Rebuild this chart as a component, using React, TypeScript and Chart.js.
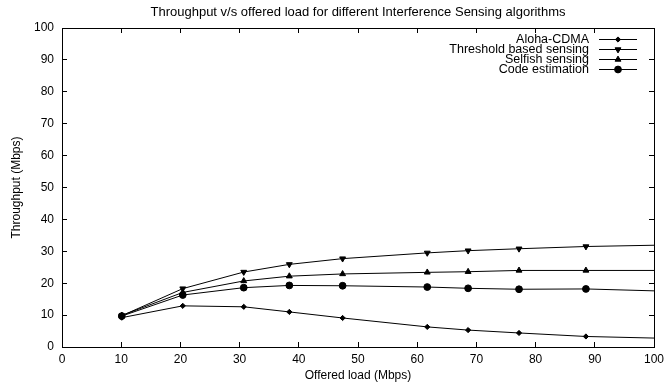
import { useEffect, useRef } from "react";
import { Chart, registerables } from "chart.js";
import { drawPoint } from "chart.js/helpers";

Chart.register(...registerables);

const chartTitle = "Throughput v/s offered load for different Interference Sensing algorithms";
const xTitle = "Offered load (Mbps)";
const yTitle = "Throughput (Mbps)";

const offeredLoad = [10.1, 20.4, 30.7, 38.4, 47.4, 61.7, 68.6, 77.2, 88.5, 100];
const alohaCdma = [9.2, 12.9, 12.6, 11.0, 9.1, 6.3, 5.3, 4.4, 3.3, 2.8];
const thresholdSensing = [9.8, 18.3, 23.5, 25.9, 27.7, 29.5, 30.2, 30.8, 31.5, 31.9];
const selfishSensing = [9.9, 17.1, 20.7, 22.2, 22.9, 23.4, 23.6, 24.0, 24.0, 24.0];
const codeEstimation = [9.7, 16.3, 18.6, 19.3, 19.2, 18.8, 18.4, 18.1, 18.2, 17.6];

const seriesNames = ["Aloha-CDMA", "Threshold based sensing", "Selfish sensing", "Code estimation"];
const seriesValues = [alohaCdma, thresholdSensing, selfishSensing, codeEstimation];
const pointStyles = ["rectRot", "triangle", "triangle", "circle"];
const pointRotations = [0, 180, 0, 0];
const pointSizes = [2.6, 3.4, 3.4, 3.4];

const xTicks = [0, 10, 20, 30, 40, 50, 60, 70, 80, 90, 100];
const yTicks = [0, 10, 20, 30, 40, 50, 60, 70, 80, 90, 100];

const FONT = "'Liberation Sans', Arial, Helvetica, sans-serif";

const textPlugin = {
  id: "gnutext",
  afterDraw(chart: any) {
    const ctx = chart.ctx;
    const area = chart.chartArea;
    ctx.save();
    ctx.fillStyle = "#000";
    ctx.font = `13px ${FONT}`;
    ctx.textAlign = "center";
    ctx.textBaseline = "middle";
    ctx.fillText(chartTitle, (area.left + area.right) / 2, 12);

    ctx.font = `12.5px ${FONT}`;
    ctx.textAlign = "right";
    ctx.strokeStyle = "#000";
    ctx.lineWidth = 1;
    const textRight = 589;
    const lineStart = 599;
    const lineEnd = 637;
    chart.data.datasets.forEach((ds: any, i: number) => {
      const y = Math.round(38.5 + i * 10.3) + 0.5;
      ctx.fillStyle = "#000";
      ctx.fillText(ds.label, textRight, y);
      ctx.beginPath();
      ctx.moveTo(lineStart, y);
      ctx.lineTo(lineEnd, y);
      ctx.stroke();
      drawPoint(
        ctx,
        { pointStyle: pointStyles[i], radius: pointSizes[i], rotation: pointRotations[i], borderWidth: 1 } as any,
        (lineStart + lineEnd) / 2,
        y
      );
    });
    ctx.restore();
  },
};

const innerGrid = {
  display: true,
  drawOnChartArea: false,
  drawTicks: true,
  tickLength: -5,
  color: "#000",
  lineWidth: 1,
};
const frameBorder = { display: true, color: "#000", width: 1 };

export default function App() {
  const ref = useRef<HTMLCanvasElement | null>(null);
  const frameRef = useRef<HTMLDivElement | null>(null);
  useEffect(() => {
    if (!ref.current) return;
    const datasets = seriesNames.map((name, i) => ({
      label: name,
      data: offeredLoad.map((x, j) => ({ x, y: seriesValues[i][j] })),
      xAxisID: "x",
      yAxisID: "y",
      showLine: true,
      borderColor: "#000",
      backgroundColor: "#000",
      borderWidth: 1,
      pointStyle: pointStyles[i] as any,
      pointRotation: pointRotations[i],
      pointRadius: offeredLoad.map((x, j) => (j === offeredLoad.length - 1 ? 0 : pointSizes[i])),
      pointBorderWidth: 1,
      pointBackgroundColor: "#000",
      pointBorderColor: "#000",
      tension: 0,
    }));
    const chart = new Chart(ref.current, {
      type: "scatter",
      data: { datasets },
      options: {
        animation: false,
        responsive: false,
        layout: { padding: { top: 28, right: 0, left: 0, bottom: 0 } },
        plugins: {
          legend: { display: false },
          tooltip: { enabled: false },
          title: { display: false },
        },
        scales: {
          x: {
            type: "linear",
            position: "bottom",
            min: 0,
            max: 100,
            afterFit: (s: any) => {
              s.height = 40;
              s.paddingRight = 10;
            },
            afterBuildTicks: (s: any) => {
              s.ticks = xTicks.map((v) => ({ value: v }));
            },
            grid: innerGrid,
            border: frameBorder,
            ticks: {
              color: "#000",
              padding: 10,
              maxRotation: 0,
              autoSkip: false,
              font: { family: FONT, size: 12 },
            },
            title: {
              display: true,
              text: xTitle,
              color: "#000",
              font: { family: FONT, size: 12 },
              padding: { top: 0, bottom: 3.8 },
            },
          },
          x2: {
            type: "linear",
            position: "top",
            min: 0,
            max: 100,
            afterFit: (s: any) => {
              s.height = 0;
            },
            afterBuildTicks: (s: any) => {
              s.ticks = xTicks.map((v) => ({ value: v }));
            },
            grid: innerGrid,
            border: frameBorder,
            ticks: { display: false },
          },
          y: {
            type: "linear",
            position: "left",
            min: 0,
            max: 100,
            afterFit: (s: any) => {
              s.width = 62;
            },
            afterBuildTicks: (s: any) => {
              s.ticks = yTicks.map((v) => ({ value: v }));
            },
            grid: innerGrid,
            border: frameBorder,
            ticks: {
              color: "#000",
              padding: 13,
              autoSkip: false,
              font: { family: FONT, size: 12 },
            },
            title: {
              display: true,
              text: yTitle,
              color: "#000",
              font: { family: FONT, size: 12 },
              padding: { top: 9.5, bottom: 0 },
            },
          },
          y2: {
            type: "linear",
            position: "right",
            min: 0,
            max: 100,
            afterFit: (s: any) => {
              s.width = 0;
            },
            afterBuildTicks: (s: any) => {
              s.ticks = yTicks.map((v) => ({ value: v }));
            },
            grid: innerGrid,
            border: frameBorder,
            ticks: { display: false },
          },
        },
      },
      plugins: [textPlugin],
    });
    const a = chart.chartArea;
    const f = frameRef.current;
    if (f && a) {
      f.style.left = `${Math.round(a.left)}px`;
      f.style.top = `${Math.round(a.top)}px`;
      f.style.width = `${Math.round(a.right - a.left) + 1}px`;
      f.style.height = `${Math.round(a.bottom - a.top) + 1}px`;
      f.style.display = "block";
    }
    return () => chart.destroy();
  }, []);
  return (
    <div style={{ position: "absolute", left: 0, top: 0, width: 664, height: 387, background: "#fff" }}>
      <canvas ref={ref} width={664} height={387} style={{ display: "block" }} />
      <div
        ref={frameRef}
        style={{
          position: "absolute",
          display: "none",
          boxSizing: "border-box",
          border: "1px solid #000",
          pointerEvents: "none",
        }}
      />
    </div>
  );
}
